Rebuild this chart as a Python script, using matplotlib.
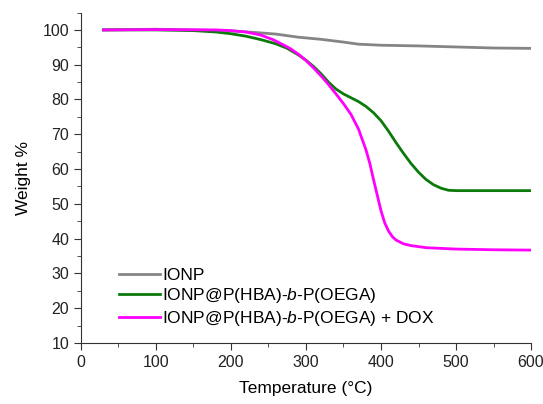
import matplotlib
matplotlib.use("Agg")
import matplotlib.pyplot as plt
from matplotlib.ticker import MultipleLocator

plt.rcParams["font.family"] = ["Liberation Sans", "DejaVu Sans"]
plt.rcParams["mathtext.fontset"] = "custom"
plt.rcParams["mathtext.it"] = "Liberation Sans:italic"
plt.rcParams["mathtext.rm"] = "Liberation Sans"

# values (temperature in C, weight %)
temp_ionp = [30, 100, 150, 200, 230, 260, 290, 320, 350, 370, 400, 450, 500, 550, 600]
w_ionp = [100, 100.2, 100, 99.7, 99.3, 98.8, 97.9, 97.3, 96.5, 95.9, 95.6, 95.4,
          95.1, 94.8, 94.7]

temp_poly = [30, 100, 150, 180, 200, 220, 240, 260, 275, 290, 300, 310, 320, 330,
             340, 350, 360, 370, 380, 390, 400, 410, 420, 430, 440, 450, 460, 470,
             480, 490, 500, 550, 600]
w_poly = [100, 100, 99.8, 99.4, 98.9, 98.2, 97.2, 96.0, 94.7, 92.8, 91.3, 89.5,
          87.4, 85.0, 83.0, 81.6, 80.5, 79.4, 78.0, 76.2, 73.9, 70.9, 67.6, 64.5,
          61.6, 59.1, 57.0, 55.5, 54.5, 53.9, 53.8, 53.8, 53.8]

temp_dox = [30, 100, 180, 200, 220, 240, 256, 270, 280, 290, 300, 310, 320, 330,
            340, 350, 360, 370, 380, 385, 390, 395, 400, 405, 410, 415, 420, 430,
            440, 460, 500, 550, 600]
w_dox = [100, 100.1, 100, 99.8, 99.4, 98.5, 97.2, 95.7, 94.5, 93.0, 91.2, 89.1,
         86.8, 84.3, 81.6, 78.8, 75.7, 71.5, 65.5, 61.7, 57.0, 52.5, 48.0, 44.5,
         42.2, 40.6, 39.6, 38.5, 38.0, 37.4, 37.0, 36.8, 36.7]

labels = ["IONP",
          "IONP@P(HBA)-$\\it{b}$-P(OEGA)",
          "IONP@P(HBA)-$\\it{b}$-P(OEGA) + DOX"]

fig = plt.figure(figsize=(5.43, 4.04), dpi=100)
ax = fig.add_axes([0.149, 0.151, 0.829, 0.818])

ax.plot(temp_ionp, w_ionp, color="#858585", lw=2.0, label=labels[0])
ax.plot(temp_poly, w_poly, color="#0b7a0b", lw=2.0, label=labels[1])
ax.plot(temp_dox, w_dox, color="#ff00ff", lw=2.0, label=labels[2])

ax.set_xlim(0, 600)
ax.set_ylim(10, 105)
ax.xaxis.set_major_locator(MultipleLocator(100))
ax.xaxis.set_minor_locator(MultipleLocator(50))
ax.yaxis.set_major_locator(MultipleLocator(10))
ax.yaxis.set_minor_locator(MultipleLocator(5))
ax.spines["top"].set_visible(False)
ax.spines["right"].set_visible(False)
for s in ["left", "bottom"]:
    ax.spines[s].set_color("#333333")
ax.tick_params(which="major", length=5, color="#333333", labelsize=11.5, labelcolor="#222222")
ax.tick_params(which="minor", length=3, color="#333333")

ax.set_xlabel("Temperature (°C)", fontsize=12.5, labelpad=8)
ax.set_ylabel("Weight %", fontsize=12.5, labelpad=8)

ax.legend(loc="lower left", bbox_to_anchor=(0.069, 0.025), frameon=False,
          fontsize=12.5, handlelength=2.36, handletextpad=0.15, labelspacing=0.2,
          borderaxespad=0)

plt.savefig("out.png", dpi=100)
